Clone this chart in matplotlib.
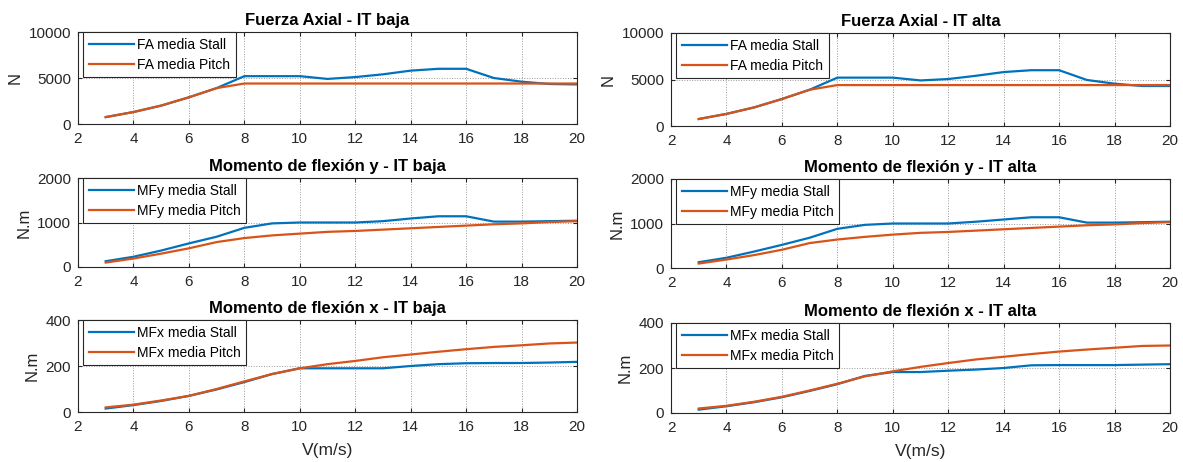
import matplotlib
matplotlib.use("Agg")
import matplotlib.pyplot as plt

plt.rcParams['font.family'] = ['Liberation Sans', 'DejaVu Sans']

v = [3, 4, 5, 6, 7, 8, 9, 10, 11, 12, 13, 14, 15, 16, 17, 18, 19, 20]

# Fuerza axial
fa_stall_baja = [750, 1300, 2000, 2900, 3900, 5200, 5200, 5200, 4900, 5100, 5400, 5800, 6000, 6000, 5000, 4600, 4350, 4300]
fa_pitch_baja = [750, 1300, 2000, 2900, 3900, 4400, 4400, 4400, 4400, 4400, 4400, 4400, 4400, 4400, 4400, 4400, 4400, 4400]
fa_stall_alta = [750, 1300, 2000, 2900, 3900, 5200, 5200, 5200, 4900, 5050, 5400, 5800, 6000, 6000, 4950, 4550, 4300, 4300]
fa_pitch_alta = [750, 1300, 2000, 2900, 3900, 4400, 4400, 4400, 4400, 4400, 4400, 4400, 4400, 4400, 4400, 4400, 4400, 4400]

# Momento de flexion y
mfy_stall_baja = [130, 230, 370, 530, 680, 880, 980, 1000, 1000, 1000, 1030, 1090, 1140, 1140, 1020, 1020, 1030, 1040]
mfy_pitch_baja = [100, 190, 300, 420, 560, 650, 710, 750, 790, 810, 840, 870, 900, 930, 960, 980, 1010, 1030]
mfy_stall_alta = [130, 230, 370, 520, 680, 880, 970, 1000, 1000, 1000, 1040, 1090, 1140, 1140, 1020, 1020, 1030, 1040]
mfy_pitch_alta = [100, 190, 290, 410, 560, 640, 700, 750, 790, 810, 840, 870, 900, 930, 960, 980, 1010, 1030]

# Momento de flexion x
mfx_stall_baja = [15, 30, 48, 70, 98, 130, 165, 190, 190, 190, 190, 200, 208, 212, 213, 213, 215, 218]
mfx_pitch_baja = [20, 32, 50, 70, 100, 133, 165, 190, 208, 222, 238, 250, 262, 273, 283, 290, 298, 302]
mfx_stall_alta = [15, 30, 48, 70, 98, 128, 165, 182, 182, 188, 193, 200, 212, 213, 213, 213, 215, 217]
mfx_pitch_alta = [20, 32, 50, 72, 100, 130, 163, 185, 205, 222, 238, 250, 262, 273, 282, 290, 298, 300]

xticks = [2, 4, 6, 8, 10, 12, 14, 16, 18, 20]

BLUE = '#0072BD'
ORANGE = '#D95319'
DARK = '#262626'

W, H = 1183, 462
fig = plt.figure(figsize=(W / 100, H / 100), dpi=100)

col_x = [(78, 577), (671, 1170)]
col_rows = [
    [(32, 124), (178, 267), (320, 412)],
    [(33, 126), (179, 268), (323, 413)],
]

panels = [
    (0, 0, 'Fuerza Axial - IT baja', 'N', (0, 10000), [0, 5000, 10000], fa_stall_baja, fa_pitch_baja, 'FA'),
    (0, 1, 'Fuerza Axial - IT alta', 'N', (0, 10000), [0, 5000, 10000], fa_stall_alta, fa_pitch_alta, 'FA'),
    (1, 0, 'Momento de flexión y - IT baja', 'N.m', (0, 2000), [0, 1000, 2000], mfy_stall_baja, mfy_pitch_baja, 'MFy'),
    (1, 1, 'Momento de flexión y - IT alta', 'N.m', (0, 2000), [0, 1000, 2000], mfy_stall_alta, mfy_pitch_alta, 'MFy'),
    (2, 0, 'Momento de flexión x - IT baja', 'N.m', (0, 400), [0, 200, 400], mfx_stall_baja, mfx_pitch_baja, 'MFx'),
    (2, 1, 'Momento de flexión x - IT alta', 'N.m', (0, 400), [0, 200, 400], mfx_stall_alta, mfx_pitch_alta, 'MFx'),
]

for r, c, title, ylab, ylim, yt, stall, pitch, name in panels:
    x0, x1 = col_x[c]
    top, bot = col_rows[c][r]
    ax = fig.add_axes([x0 / W, 1 - bot / H, (x1 - x0) / W, (bot - top) / H])
    ax.plot(v, stall, color=BLUE, lw=1.6, label=f'{name} media Stall')
    ax.plot(v, pitch, color=ORANGE, lw=1.6, label=f'{name} media Pitch')
    ax.set_xlim(2, 20)
    ax.set_ylim(*ylim)
    ax.set_xticks(xticks)
    ax.set_yticks(yt)
    ax.grid(True, linestyle=':', color='#9a9a9a', lw=0.7)
    ax.tick_params(direction='in', length=3, labelsize=11, colors=DARK,
                   top=True, right=True)
    ax.tick_params(axis='x', pad=6)
    ax.tick_params(axis='y', pad=5)
    for sp in ax.spines.values():
        sp.set_color(DARK)
        sp.set_linewidth(0.8)
    ax.set_title(title, fontsize=12, fontweight='bold', pad=5)
    ax.set_ylabel(ylab, fontsize=12, color=DARK, labelpad=4)
    if r == 2:
        ax.set_xlabel('V(m/s)', fontsize=12.5, color=DARK, labelpad=6)
    leg = ax.legend(loc='upper left', bbox_to_anchor=(0.01, 0.995), borderaxespad=0,
                    fontsize=10, handlelength=3.3, handletextpad=0.2,
                    borderpad=0.4, labelspacing=0.4, fancybox=False, framealpha=1)
    leg.get_frame().set_edgecolor(DARK)
    leg.get_frame().set_linewidth(0.8)

fig.savefig('out.png', dpi=100)
